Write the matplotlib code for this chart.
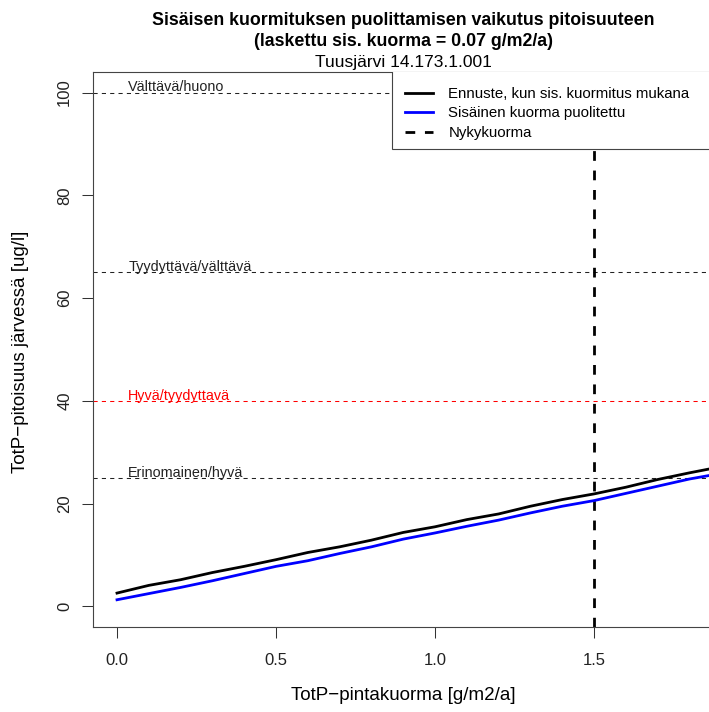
import matplotlib
matplotlib.use("Agg")
import matplotlib.pyplot as plt
from matplotlib.lines import Line2D
from matplotlib.patches import Rectangle

plt.rcParams['font.family'] = ['Liberation Sans', 'DejaVu Sans']

# kuorma (g/m2/a) ja pitoisuus (ug/l), luettu kuvasta
kuorma = [0.0, 0.1, 0.2, 0.3, 0.4, 0.5, 0.6, 0.7, 0.8, 0.9,
          1.0, 1.1, 1.2, 1.3, 1.4, 1.5, 1.6, 1.7, 1.8, 1.9]
ennuste = [2.6, 4.1, 5.2, 6.6, 7.8, 9.1, 10.5, 11.6, 12.9, 14.4,
           15.5, 16.9, 18.0, 19.5, 20.8, 21.9, 23.2, 24.7, 26.0, 27.2]
puolitettu = [1.3, 2.5, 3.7, 5.0, 6.4, 7.8, 8.9, 10.3, 11.6, 13.1,
              14.3, 15.6, 16.8, 18.2, 19.5, 20.6, 22.0, 23.4, 24.8, 25.9]
nykykuorma = 1.5

rajat = [100, 65, 40, 25]
raja_nimet = ['Välttävä/huono', 'Tyydyttävä/välttävä', 'Hyvä/tyydyttavä', 'Erinomainen/hyvä']
raja_varit = ['#222222', '#222222', 'red', '#222222']

legend_labels = ['Ennuste, kun sis. kuormitus mukana', 'Sisäinen kuorma puolitettu', 'Nykykuorma']

W, H = 709, 712
fig = plt.figure(figsize=(W / 100, H / 100), dpi=100)
# plot area in pixels: left 93, right 713 (just past the edge), top 72, bottom 627
ax = fig.add_axes([93 / W, (H - 627) / H, (713 - 93) / W, (627 - 72) / H])

ax.plot(kuorma, ennuste, color='black', lw=2, zorder=3)
ax.plot(kuorma, puolitettu, color='blue', lw=2, zorder=3)
ax.axvline(nykykuorma, color='black', lw=2, linestyle=(0, (3.5, 3.5)), zorder=2)

for y, nimi, c in zip(rajat, raja_nimet, raja_varit):
    ax.axhline(y, color=c, lw=0.75, linestyle=(0, (4, 4)), zorder=1)
    ax.text(0.035, y + 0.25, nimi, color=c, fontsize=10.4, ha='left', va='baseline', zorder=2)

ax.set_xlim(-0.0755, 1.874)
ax.set_ylim(-4, 104)
ax.set_xticks([0.0, 0.5, 1.0, 1.5])
ax.set_xticklabels(['0.0', '0.5', '1.0', '1.5'])
ax.set_yticks([0, 20, 40, 60, 80, 100])
ax.tick_params(axis='both', length=8, width=0.75, color='#333333', labelsize=12, labelcolor='#222222')
ax.tick_params(axis='x', pad=11)
ax.tick_params(axis='y', pad=7, labelrotation=90)
for lab in ax.get_yticklabels():
    lab.set_va('center')
for s in ax.spines.values():
    s.set_color('#444444')
    s.set_linewidth(0.8)

# legend box (R style, touches the top of the plot)
ax.add_patch(Rectangle(((392 - 93) / 620, (627 - 149) / 555), 0.6, 1.0,
                       transform=ax.transAxes, facecolor='white', edgecolor='#444444',
                       lw=0.8, zorder=5))
handles = [Line2D([], [], color='black', lw=2),
           Line2D([], [], color='blue', lw=2),
           Line2D([], [], color='black', lw=2, linestyle=(0, (3.5, 3.5)))]
ax.legend(handles, legend_labels, loc='upper left', bbox_to_anchor=((405 - 93) / 620, (627 - 87) / 555),
          frameon=False, fontsize=10.8, handlelength=1.9, handletextpad=1.0,
          labelspacing=0.36, borderpad=0, borderaxespad=0).set_zorder(6)

fig.text(403 / W, 1 - 25 / H, 'Sisäisen kuormituksen puolittamisen vaikutus pitoisuuteen',
         ha='center', va='baseline', fontsize=12.8, fontweight='bold')
fig.text(403 / W, 1 - 46 / H, '(laskettu sis. kuorma = 0.07 g/m2/a)',
         ha='center', va='baseline', fontsize=12.8, fontweight='bold')
fig.text(403 / W, 1 - 66.5 / H, 'Tuusjärvi 14.173.1.001',
         ha='center', va='baseline', fontsize=12.5)
fig.text(403 / W, 1 - 700 / H, 'TotP\u2212pintakuorma [g/m2/a]',
         ha='center', va='baseline', fontsize=13.5)
fig.text(21 / W, 1 - 352 / H, 'TotP\u2212pitoisuus järvessä [ug/l]',
         ha='center', va='center', rotation=90, fontsize=13.5)

fig.savefig('out.png', dpi=100)
